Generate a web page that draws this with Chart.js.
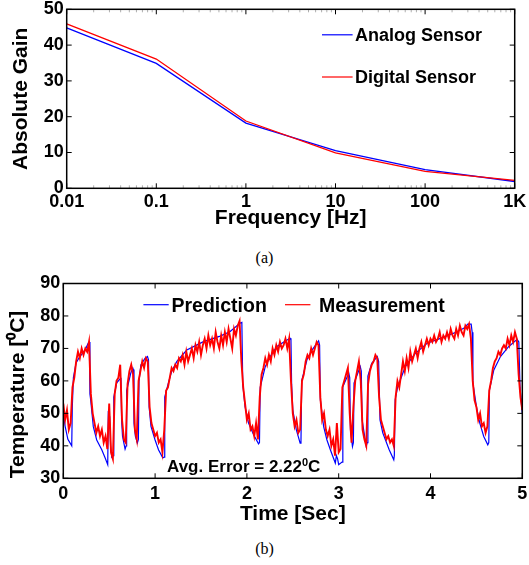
<!DOCTYPE html>
<html>
<head>
<meta charset="utf-8">
<script src="https://cdn.jsdelivr.net/npm/chart.js@4/dist/chart.umd.min.js"></script>
<style>
  html, body { margin: 0; padding: 0; background: #fff; }
  body { width: 529px; height: 565px; position: relative; overflow: hidden; }
  canvas { position: absolute; left: 0; }
  #chartA { top: 0; }
  #chartB { top: 270px; }
  .note { position: absolute; font-family: 'Liberation Sans', Arial, sans-serif; font-weight: bold; color: #000; white-space: nowrap; }
  .caption { position: absolute; width: 529px; left: 0; text-align: center; font-family: 'Liberation Serif', 'Times New Roman', serif; font-size: 16px; color: #000; }
</style>
</head>
<body>
<canvas id="chartA" width="529" height="240"></canvas>
<canvas id="chartB" width="529" height="265"></canvas>
<div class="note" id="avgError" style="left:167px; top:457px; font-size:17px; line-height:20px;">Avg. Error = 2.22<sup style="font-size:11px; vertical-align:6px; line-height:0;">0</sup>C</div>
<div class="caption" style="top:248px; line-height:20px;">(a)</div>
<div class="caption" style="top:539px; line-height:20px;">(b)</div>
<script>
// (a) gain vs frequency
const freqHz = [0.01, 0.1, 1, 10, 100, 1000];
const freqTickLabels = ["0.01", "0.1", "1", "10", "100", "1K"];
const analogGain = [44.8, 34.9, 18.2, 10.5, 5.2, 1.9];
const digitalGain = [45.9, 36.1, 18.8, 9.9, 4.7, 2.2];

// (b) prediction trace (time in sec, temperature in C)
const predTime = [
  0, 0.02, 0.05, 0.092, 0.098, 0.11, 0.139, 0.18, 0.237, 0.273, 0.284,
  0.29, 0.298, 0.327, 0.364, 0.419, 0.455, 0.484, 0.49, 0.505, 0.515, 0.528,
  0.545, 0.55, 0.582, 0.618, 0.628, 0.635, 0.645, 0.673, 0.684, 0.69, 0.735,
  0.757, 0.763, 0.77, 0.785, 0.807, 0.818, 0.825, 0.845, 0.891, 0.917, 0.928,
  0.935, 0.955, 1.0, 1.037, 1.084, 1.098, 1.105, 1.145, 1.18, 1.237, 1.345,
  1.527, 1.709, 1.818, 1.927, 1.945, 1.955, 1.98, 2.018, 2.073, 2.127, 2.137,
  2.145, 2.2, 2.254, 2.327, 2.436, 2.472, 2.48, 2.487, 2.5, 2.538, 2.58,
  2.589, 2.597, 2.654, 2.709, 2.781, 2.792, 2.8, 2.836, 2.872, 2.909, 2.963,
  2.975, 2.988, 3.0, 3.036, 3.045, 3.11, 3.12, 3.128, 3.15, 3.16, 3.167,
  3.235, 3.246, 3.255, 3.3, 3.31, 3.318, 3.36, 3.42, 3.435, 3.45, 3.48,
  3.55, 3.6, 3.606, 3.615, 3.643, 3.726, 3.835, 3.963, 4.108, 4.253, 4.362,
  4.406, 4.443, 4.454, 4.462, 4.5, 4.537, 4.58, 4.624, 4.635, 4.642, 4.69,
  4.762, 4.853, 4.944, 4.962, 4.975, 5.0
];
const predTemp = [
  50.2, 46, 42, 40, 52, 61, 65.5, 67.5, 69.5, 71.7, 72,
  56, 54.2, 45.9, 41.8, 38.8, 36.3, 34.2, 50, 49, 40, 36.5,
  37, 55, 59.4, 60.6, 61, 48, 43, 39, 40, 57, 62.4,
  64, 63.5, 47, 43, 40.9, 42, 60, 64.9, 67, 67.5, 66.5,
  52, 46, 41.8, 38.8, 36.3, 36.5, 55, 59.4, 62.9, 66, 69.5,
  72.1, 73.8, 75.2, 77.8, 78, 59, 52.1, 47, 43.4, 40.6, 41,
  58, 64.4, 67.5, 70.6, 72.6, 73.1, 72.5, 59, 51, 45, 40.8,
  41.2, 60, 66.5, 69.5, 72.3, 71, 54.2, 45.9, 41.8, 38.8, 34.7,
  37, 36, 34.2, 35, 58.2, 62.4, 61, 45, 39.8, 41, 59.3,
  64.4, 63, 48, 39.8, 41, 61.5, 65.4, 67.5, 66, 48, 44,
  38.8, 35.7, 37, 54.2, 58.2, 64.4, 68.5, 71.6, 73.1, 74.7, 76.2,
  77.5, 77.5, 75, 59.3, 52.1, 47, 42.9, 40.3, 41, 57.2, 63.4,
  67.5, 70.6, 72.8, 72, 58, 50
];

// (b) measurement, one sample every measStep seconds from t = 0
const measStep = 0.02;
const measTemp = [
  53, 48, 51, 45, 47, 58, 61, 66, 69, 67,
  70, 68, 70, 69, 72, 56, 50, 47, 44, 46,
  43, 45, 41, 43, 39, 53, 38, 36, 56, 60,
  61, 65, 48, 42, 41, 59, 63, 65, 62, 45,
  42, 60, 63, 66, 64, 67, 66, 52, 47, 45,
  43, 44, 41, 42, 38, 45, 57, 58, 61, 64,
  63, 65, 64, 67, 66, 68, 65, 69, 66, 68,
  70, 67, 71, 69, 72, 68, 71, 73, 70, 74,
  71, 73, 70, 75, 72, 70, 74, 71, 75, 72,
  76, 73, 70, 76, 74, 77, 78.5, 66, 58, 53,
  48, 50, 45, 46, 43, 47, 42, 55, 62, 64,
  67, 65, 68, 66, 70, 68, 71, 69, 72, 70,
  71, 73, 70, 73, 60, 50, 46, 48, 44, 45,
  60, 62, 66, 68, 67, 70, 68, 70, 72, 71,
  55, 48, 50, 45, 43, 45, 40, 42, 37, 47,
  38, 39, 58, 60, 62, 64, 50, 41, 52, 60,
  63, 66, 60, 45, 42, 40, 59, 63, 65, 66,
  68, 67, 55, 48, 46, 44, 42, 43, 41, 42,
  40, 55, 60, 58, 62, 66, 63, 67, 64, 69,
  66, 68, 70, 67, 70, 72, 69, 71, 73, 71,
  73, 72, 74, 72, 73, 75, 72, 74, 73, 75,
  73, 76, 74, 73, 76, 74, 77, 75, 74, 77,
  76, 77.5, 73, 60, 54, 52, 48, 50, 46, 47,
  44, 46, 57, 60, 64, 66, 67, 69, 68, 70,
  71, 70, 73, 71, 74, 72, 75, 73, 62, 55,
  51
];

const fontFamily = "'Liberation Sans', Arial, Helvetica, sans-serif";
Chart.defaults.font.family = fontFamily;
Chart.defaults.color = "#000";

// Matlab-like box with inward ticks (and optional minor ticks on a log axis)
const matlabFrame = {
  id: "matlabFrame",
  afterDatasetsDraw(chart, args, opts) {
    const { ctx, chartArea: a, scales } = chart;
    const len = 5;
    ctx.save();
    if (opts.minor) {
      ctx.strokeStyle = "#b0b0b0";
      ctx.lineWidth = 1;
      ctx.beginPath();
      for (let d = scales.x.min; d < scales.x.max; d *= 10) {
        for (let m = 2; m <= 9; m++) {
          const px = scales.x.getPixelForValue(m * d);
          ctx.moveTo(px, a.bottom); ctx.lineTo(px, a.bottom - 3);
          ctx.moveTo(px, a.top); ctx.lineTo(px, a.top + 3);
        }
      }
      ctx.stroke();
    }
    ctx.strokeStyle = "#000";
    ctx.lineWidth = 1;
    ctx.beginPath();
    scales.x.ticks.forEach((t) => {
      const px = scales.x.getPixelForValue(t.value);
      ctx.moveTo(px, a.bottom); ctx.lineTo(px, a.bottom - len);
      ctx.moveTo(px, a.top); ctx.lineTo(px, a.top + len);
    });
    scales.y.ticks.forEach((t) => {
      const py = scales.y.getPixelForValue(t.value);
      ctx.moveTo(a.left, py); ctx.lineTo(a.left + len, py);
      ctx.moveTo(a.right, py); ctx.lineTo(a.right - len, py);
    });
    ctx.stroke();
    ctx.lineWidth = 1.5;
    ctx.strokeRect(a.left, a.top, a.right - a.left, a.bottom - a.top);
    ctx.restore();
  },
};

// legend drawn inside the axes at fixed spots, like the original figure
const insideLegend = {
  id: "insideLegend",
  afterDraw(chart, args, opts) {
    const ctx = chart.ctx;
    ctx.save();
    ctx.font = `bold ${opts.fontSize}px ${fontFamily}`;
    ctx.textBaseline = "middle";
    opts.items.forEach((it) => {
      const ds = chart.data.datasets[it.dataset];
      ctx.strokeStyle = ds.borderColor;
      ctx.lineWidth = 1.2;
      ctx.beginPath();
      ctx.moveTo(it.x0, it.y);
      ctx.lineTo(it.x1, it.y);
      ctx.stroke();
      ctx.fillStyle = "#000";
      ctx.fillText(ds.label, it.textX, it.y + 1.5);
    });
    ctx.restore();
  },
};

const tickFont = { size: 18, weight: "bold" };
const titleFont = { size: 21, weight: "bold" };

new Chart(document.getElementById("chartA"), {
  type: "line",
  data: {
    datasets: [
      {
        label: "Digital Sensor",
        data: freqHz.map((f, i) => ({ x: f, y: digitalGain[i] })),
        borderColor: "#ff0000",
        borderWidth: 1.3,
        order: 0,
      },
      {
        label: "Analog Sensor",
        data: freqHz.map((f, i) => ({ x: f, y: analogGain[i] })),
        borderColor: "#0000ff",
        borderWidth: 1.3,
        order: 1,
      },
    ],
  },
  options: {
    responsive: false,
    animation: false,
    elements: { point: { radius: 0 }, line: { tension: 0 } },
    layout: { padding: { left: 0, top: 9.3, right: 14.3, bottom: 9.4 } },
    plugins: {
      legend: { display: false },
      tooltip: { enabled: false },
      matlabFrame: { minor: true },
      insideLegend: {
        fontSize: 18,
        items: [
          { dataset: 1, x0: 322, x1: 352.6, y: 34.8, textX: 355 },
          { dataset: 0, x0: 322, x1: 352.6, y: 77, textX: 355 },
        ],
      },
    },
    scales: {
      x: {
        type: "logarithmic",
        min: 0.01,
        max: 1000,
        grid: { display: false, drawTicks: false },
        border: { display: false },
        afterBuildTicks: (s) => {
          s.ticks = freqHz.map((v) => ({ value: v }));
        },
        afterFit: (s) => {
          s.height = 42.3;
          s.paddingLeft = 0;
          s.paddingRight = 0;
        },
        ticks: {
          font: tickFont,
          padding: 3,
          maxRotation: 0,
          autoSkip: false,
          callback: (value) => {
            const i = freqHz.findIndex((f) => Math.abs(f - value) < f * 1e-6);
            return i >= 0 ? freqTickLabels[i] : "";
          },
        },
        title: {
          display: true,
          text: "Frequency [Hz]",
          font: titleFont,
          padding: { top: 0, bottom: 0 },
        },
      },
      y: {
        min: 0,
        max: 50,
        grid: { display: false, drawTicks: false },
        border: { display: false },
        afterFit: (s) => {
          s.width = 66.7;
          s.paddingTop = 0;
          s.paddingBottom = 0;
        },
        ticks: { stepSize: 10, font: tickFont, padding: 3 },
        title: {
          display: true,
          text: "Absolute Gain",
          font: titleFont,
          padding: { top: 8.4, bottom: 0 },
        },
      },
    },
  },
  plugins: [matlabFrame, insideLegend],
});

new Chart(document.getElementById("chartB"), {
  type: "line",
  data: {
    datasets: [
      {
        label: "Measurement",
        data: measTemp.map((v, i) => ({ x: +(i * measStep).toFixed(2), y: v })),
        borderColor: "#ff0000",
        borderWidth: 1.9,
        order: 0,
      },
      {
        label: "Prediction",
        data: predTime.map((t, i) => ({ x: t, y: predTemp[i] })),
        borderColor: "#0000ff",
        borderWidth: 1.2,
        order: 1,
      },
    ],
  },
  options: {
    responsive: false,
    animation: false,
    elements: { point: { radius: 0 }, line: { tension: 0 } },
    layout: { padding: { left: 0, top: 13.5, right: 6.7, bottom: 8.4 } },
    plugins: {
      legend: { display: false },
      tooltip: { enabled: false },
      matlabFrame: { minor: false },
      insideLegend: {
        fontSize: 19.5,
        items: [
          { dataset: 1, x0: 143.4, x1: 168.7, y: 34.7, textX: 171.5 },
          { dataset: 0, x0: 285, x1: 310.4, y: 34.7, textX: 319 },
        ],
      },
    },
    scales: {
      x: {
        type: "linear",
        min: 0,
        max: 5,
        grid: { display: false, drawTicks: false },
        border: { display: false },
        afterFit: (s) => {
          s.height = 48.3;
          s.paddingLeft = 0;
          s.paddingRight = 0;
        },
        ticks: { stepSize: 1, font: tickFont, padding: 5, maxRotation: 0 },
        title: {
          display: true,
          text: "Time [Sec]",
          font: titleFont,
          padding: { top: 0, bottom: 0 },
        },
      },
      y: {
        min: 30,
        max: 90,
        grid: { display: false, drawTicks: false },
        border: { display: false },
        afterFit: (s) => {
          s.width = 63.3;
          s.paddingTop = 0;
          s.paddingBottom = 0;
        },
        ticks: { stepSize: 10, font: tickFont, padding: 3 },
        title: {
          display: true,
          text: "Temperature [\u2070C]",
          align: "start",
          font: titleFont,
          padding: { top: 5.9, bottom: 0 },
        },
      },
    },
  },
  plugins: [matlabFrame, insideLegend],
});
</script>
</body>
</html>
